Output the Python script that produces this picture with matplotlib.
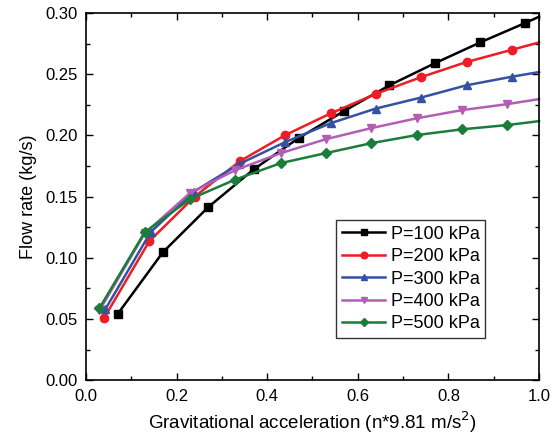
import numpy as np
import matplotlib.pyplot as plt
from matplotlib.ticker import MultipleLocator

plt.rcParams['font.family'] = ['Liberation Sans', 'DejaVu Sans']

# last x of each series (1.0) is the curve end, drawn without a marker
x_100 = [0.07, 0.17, 0.27, 0.37, 0.47, 0.57, 0.67, 0.77, 0.87, 0.97, 1.0]
y_100 = [0.054, 0.1046, 0.1414, 0.1722, 0.198, 0.220, 0.241, 0.259, 0.276, 0.292, 0.297]

x_200 = [0.04, 0.14, 0.24, 0.34, 0.44, 0.54, 0.64, 0.74, 0.84, 0.94, 1.0]
y_200 = [0.0507, 0.1136, 0.150, 0.179, 0.2003, 0.218, 0.234, 0.2477, 0.260, 0.270, 0.276]

x_300 = [0.043, 0.143, 0.238, 0.338, 0.44, 0.54, 0.64, 0.74, 0.84, 0.94, 1.0]
y_300 = [0.058, 0.121, 0.154, 0.1766, 0.1946, 0.210, 0.222, 0.231, 0.241, 0.248, 0.2518]

x_400 = [0.03, 0.13, 0.23, 0.33, 0.43, 0.53, 0.63, 0.73, 0.83, 0.93, 1.0]
y_400 = [0.057, 0.120, 0.153, 0.1717, 0.1855, 0.197, 0.206, 0.214, 0.2207, 0.2256, 0.2297]

x_500 = [0.03, 0.13, 0.23, 0.33, 0.43, 0.53, 0.63, 0.73, 0.83, 0.93, 1.0]
y_500 = [0.0589, 0.121, 0.148, 0.164, 0.1774, 0.1856, 0.1937, 0.2003, 0.205, 0.2085, 0.2117]

series = [
    ('P=100 kPa', x_100, y_100, 's', '#000000'),
    ('P=200 kPa', x_200, y_200, 'o', '#ee1c25'),
    ('P=300 kPa', x_300, y_300, '^', '#3451a3'),
    ('P=400 kPa', x_400, y_400, 'v', '#b35db5'),
    ('P=500 kPa', x_500, y_500, 'D', '#1b7d3b'),
]

fig = plt.figure(figsize=(5.54, 4.36), dpi=100)
ax = fig.add_axes([0.155, 0.128, 0.818, 0.842])

for label, xs, ys, m, c in series:
    ax.plot(xs, ys, color=c, lw=1.8, marker=m, ms=6 if m != 'D' else 5,
            markevery=list(range(len(xs) - 1)), label=label, clip_on=False)

ax.set_xlim(0, 1.0)
ax.set_ylim(0, 0.30)
ax.xaxis.set_major_locator(MultipleLocator(0.2))
ax.xaxis.set_minor_locator(MultipleLocator(0.1))
ax.yaxis.set_major_locator(MultipleLocator(0.05))
ax.yaxis.set_minor_locator(MultipleLocator(0.025))
ax.xaxis.set_major_formatter(plt.FuncFormatter(lambda v, p: '%.1f' % v))
ax.yaxis.set_major_formatter(plt.FuncFormatter(lambda v, p: '%.2f' % v))
ax.tick_params(which='both', direction='in', top=True, right=True, labelsize=12, pad=6)
ax.tick_params(which='major', length=5, width=1)
ax.tick_params(which='minor', length=3, width=1)
for s in ax.spines.values():
    s.set_linewidth(1.2)

ax.set_xlabel('Gravitational acceleration (n*9.81 m/s$^2$)', fontsize=13.5, labelpad=4)
ax.set_ylabel('Flow rate (kg/s)', fontsize=13, labelpad=6)

leg = ax.legend(loc='lower left', bbox_to_anchor=(0.533, 0.091), fontsize=13,
                frameon=True, fancybox=False, edgecolor='black',
                handlelength=2.4, handletextpad=0.3, labelspacing=0.3,
                borderpad=0.3, markerscale=0.8)
leg.get_frame().set_linewidth(1.0)

fig.savefig('out.png', dpi=100)
